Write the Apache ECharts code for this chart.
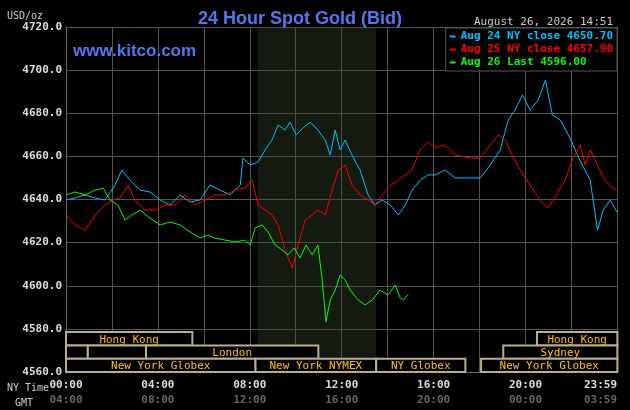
<!DOCTYPE html>
<html><head><meta charset="utf-8">
<script src="https://cdn.jsdelivr.net/npm/echarts@6/dist/echarts.min.js"></script>
<style>html,body{margin:0;background:#000}#c{width:630px;height:410px}</style>
</head><body><div id="c"></div>
<script>
const aug24Times=[0,24,50,76,102,128,146,167,193,219,246,272,298,324,350,376,402,429,455,462,481,502,520,538,554,572,585,601,619,638,658,677,690,703,716,729,747,768,789,807,826,847,868,886,904,925,946,964,990,1016,1043,1082,1108,1134,1155,1173,1192,1212,1233,1252,1270,1291,1312,1330,1348,1369,1388,1403,1421,1439];
const aug24Values=[4639.8,4640.7,4642.1,4640.7,4639.8,4646.7,4653.7,4649.0,4644.4,4643.5,4639.8,4637.4,4642.1,4638.8,4639.8,4646.7,4644.4,4642.1,4646.7,4659.2,4656.0,4657.4,4663.0,4667.6,4674.5,4672.2,4675.9,4669.9,4673.2,4675.9,4672.2,4667.6,4660.6,4672.2,4663.0,4667.6,4660.6,4653.7,4642.1,4637.4,4639.8,4637.4,4632.8,4637.4,4644.4,4649.0,4651.4,4651.4,4653.7,4650.0,4650.0,4650.0,4656.0,4663.0,4676.9,4681.5,4688.5,4681.5,4686.1,4695.4,4679.2,4676.9,4670.0,4663.0,4656.0,4649.0,4625.8,4635.1,4639.8,4634.2];
const aug25Times=[0,24,50,76,102,123,141,162,180,206,233,259,285,311,337,363,389,415,442,468,486,502,520,538,554,572,591,606,625,643,658,677,695,711,729,747,768,789,807,826,847,868,886,904,925,946,964,990,1016,1056,1082,1108,1129,1147,1165,1186,1212,1238,1259,1280,1304,1322,1343,1356,1369,1388,1408,1427,1439];
const aug25Values=[4632.8,4628.2,4625.8,4632.8,4637.4,4639.8,4640.7,4646.7,4639.8,4635.1,4635.1,4637.4,4637.4,4642.1,4637.4,4639.8,4642.1,4642.1,4644.4,4645.3,4649.0,4637.4,4635.1,4632.8,4628.2,4616.6,4608.2,4618.9,4630.5,4632.8,4635.1,4632.8,4644.4,4653.7,4656.0,4646.7,4642.1,4639.8,4637.4,4642.1,4646.7,4649.0,4651.4,4653.7,4663.0,4666.7,4663.9,4665.3,4660.6,4659.2,4659.2,4665.3,4669.9,4667.6,4660.6,4653.7,4646.7,4639.8,4636.1,4642.1,4649.0,4658.3,4665.3,4656.0,4663.0,4656.0,4649.0,4645.3,4644.4];
const aug26Times=[0,24,50,76,97,115,136,154,172,193,219,246,272,298,324,350,371,389,415,442,468,481,494,512,528,546,564,580,596,611,627,643,658,669,679,690,703,716,729,742,763,781,800,820,841,860,873,881,894];
const aug26Values=[4642.1,4643.5,4642.1,4644.4,4645.3,4639.8,4637.4,4630.5,4632.8,4635.1,4631.4,4628.2,4629.6,4628.2,4624.9,4622.1,4623.5,4622.1,4621.2,4620.3,4621.2,4618.9,4626.8,4628.2,4624.9,4618.9,4616.6,4614.3,4617.5,4612.9,4618.9,4614.3,4618.9,4602.7,4583.2,4593.4,4598.0,4605.0,4602.7,4598.0,4593.4,4591.1,4593.4,4598.0,4595.7,4600.3,4594.3,4593.4,4596.0];
const seriesNames=['Aug 24 NY close 4650.70','Aug 25 NY close 4657.90','Aug 26 Last 4596.00'];
const timeLabelValues=[0,240,480,720,960,1200,1439];
const sessionNames=['Hong Kong','Hong Kong','','','London','Sydney','New York Globex','New York NYMEX','NY Globex','New York Globex'];
const sessionStart=[0,1230,0,57,209,1142,0,495,810,1084];
const sessionEnd=[330,1440,57,209,659,1440,495,810,1043,1440];
const sessionRow=[0,0,1,1,1,1,2,2,2,2];
const rowTop=[4578.5,4572.3,4566.2], rowBot=[4572.3,4566.2,4560];

const colors=['#00c0ff','#ff0000','#00ff00'];
const mono='DejaVu Sans Mono';
function hhmm(m){const h=Math.floor(m/60)%24,mm=m%60;return String(h).padStart(2,'0')+':'+String(mm).padStart(2,'0');}
const zip=(t,v)=>t.map((x,i)=>[x,v[i]]);
const chart=echarts.init(document.getElementById('c'));
chart.setOption({
  backgroundColor:'#000',animation:false,
  grid:{left:66,right:13,top:27,bottom:38},
  title:[{text:'24 Hour Spot Gold (Bid)',left:295,top:5,textAlign:'center',textStyle:{color:'#5577ee',fontSize:18,fontWeight:'bold',fontFamily:'Liberation Sans'}},
    {text:'www.kitco.com',left:68,top:38,textStyle:{color:'#5577ee',fontSize:17,fontWeight:'bold',fontFamily:'Liberation Sans'}},
    {text:'USD/oz',left:2,top:6,textStyle:{color:'#ccc',fontSize:10,fontWeight:'normal',fontFamily:mono}},
    {text:'August 26, 2026 14:51',right:12,top:12,textStyle:{color:'#ccc',fontSize:11,fontWeight:'normal',fontFamily:mono}},
    {text:'NY Time',left:2,top:378,textStyle:{color:'#ccc',fontSize:10,fontWeight:'normal',fontFamily:mono}},
    {text:'GMT',left:10,top:393,textStyle:{color:'#ccc',fontSize:10,fontWeight:'normal',fontFamily:mono}}],
  legend:{orient:'vertical',right:13,top:28,itemWidth:6,itemHeight:2,itemGap:2,padding:[3,4,3,4],
    backgroundColor:'#000',borderColor:'#555',borderWidth:1,
    data:seriesNames.map((n,i)=>({name:n,icon:'rect',textStyle:{color:colors[i],fontFamily:mono,fontSize:11,fontWeight:'bold'}}))},
  xAxis:{type:'value',min:0,max:1439,interval:120,
    axisLine:{lineStyle:{color:'#666'}},axisTick:{show:false},
    splitLine:{show:true,lineStyle:{color:'#555'}},
    axisLabel:{customValues:timeLabelValues,alignMaxLabel:'right',margin:6,
      formatter:v=>'{a|'+hhmm(v)+'}\n{b|'+hhmm(v+240)+'}',
      rich:{a:{color:'#ddd',fontFamily:mono,fontSize:11,fontWeight:'bold',lineHeight:15},b:{color:'#666',fontFamily:mono,fontSize:11,fontWeight:'bold',lineHeight:15}}}},
  yAxis:{type:'value',min:4560,max:4720,interval:20,
    axisLine:{show:true,lineStyle:{color:'#666'}},axisTick:{show:false},
    splitLine:{lineStyle:{color:'#555'}},
    axisLabel:{formatter:v=>v.toFixed(1),color:'#ddd',fontFamily:mono,fontSize:11,fontWeight:'bold',margin:4}},
  series:[
    {name:seriesNames[0],type:'line',data:zip(aug24Times,aug24Values),symbol:'none',lineStyle:{color:colors[0],width:1},itemStyle:{color:colors[0]},z:3,
      markArea:{silent:true,itemStyle:{color:'rgba(60,75,50,0.35)'},data:[[{xAxis:500},{xAxis:810}]]}},
    {name:seriesNames[1],type:'line',data:zip(aug25Times,aug25Values),symbol:'none',lineStyle:{color:colors[1],width:1},itemStyle:{color:colors[1]},z:4},
    {name:seriesNames[2],type:'line',data:zip(aug26Times,aug26Values),symbol:'none',lineStyle:{color:colors[2],width:1},itemStyle:{color:colors[2]},z:5},
    {type:'custom',z:6,silent:true,
      data:sessionNames.map((n,i)=>[sessionStart[i],sessionEnd[i],sessionRow[i],n]),
      renderItem:(p,api)=>{
        const r=api.value(2);
        const a=api.coord([api.value(0),rowTop[r]]),b=api.coord([api.value(1),rowBot[r]]);
        return {type:'group',children:[
          {type:'rect',shape:{x:a[0],y:a[1],width:b[0]-a[0],height:b[1]-a[1]},style:{fill:'#000',stroke:'#b8b088',lineWidth:2}},
          {type:'text',style:{text:sessionNames[p.dataIndex],x:(a[0]+b[0])/2,y:(a[1]+b[1])/2+1,align:'center',verticalAlign:'middle',fill:'#ffc000',font:'11px "DejaVu Sans Mono"'}}]};
      }}
  ]
});
</script></body></html>
